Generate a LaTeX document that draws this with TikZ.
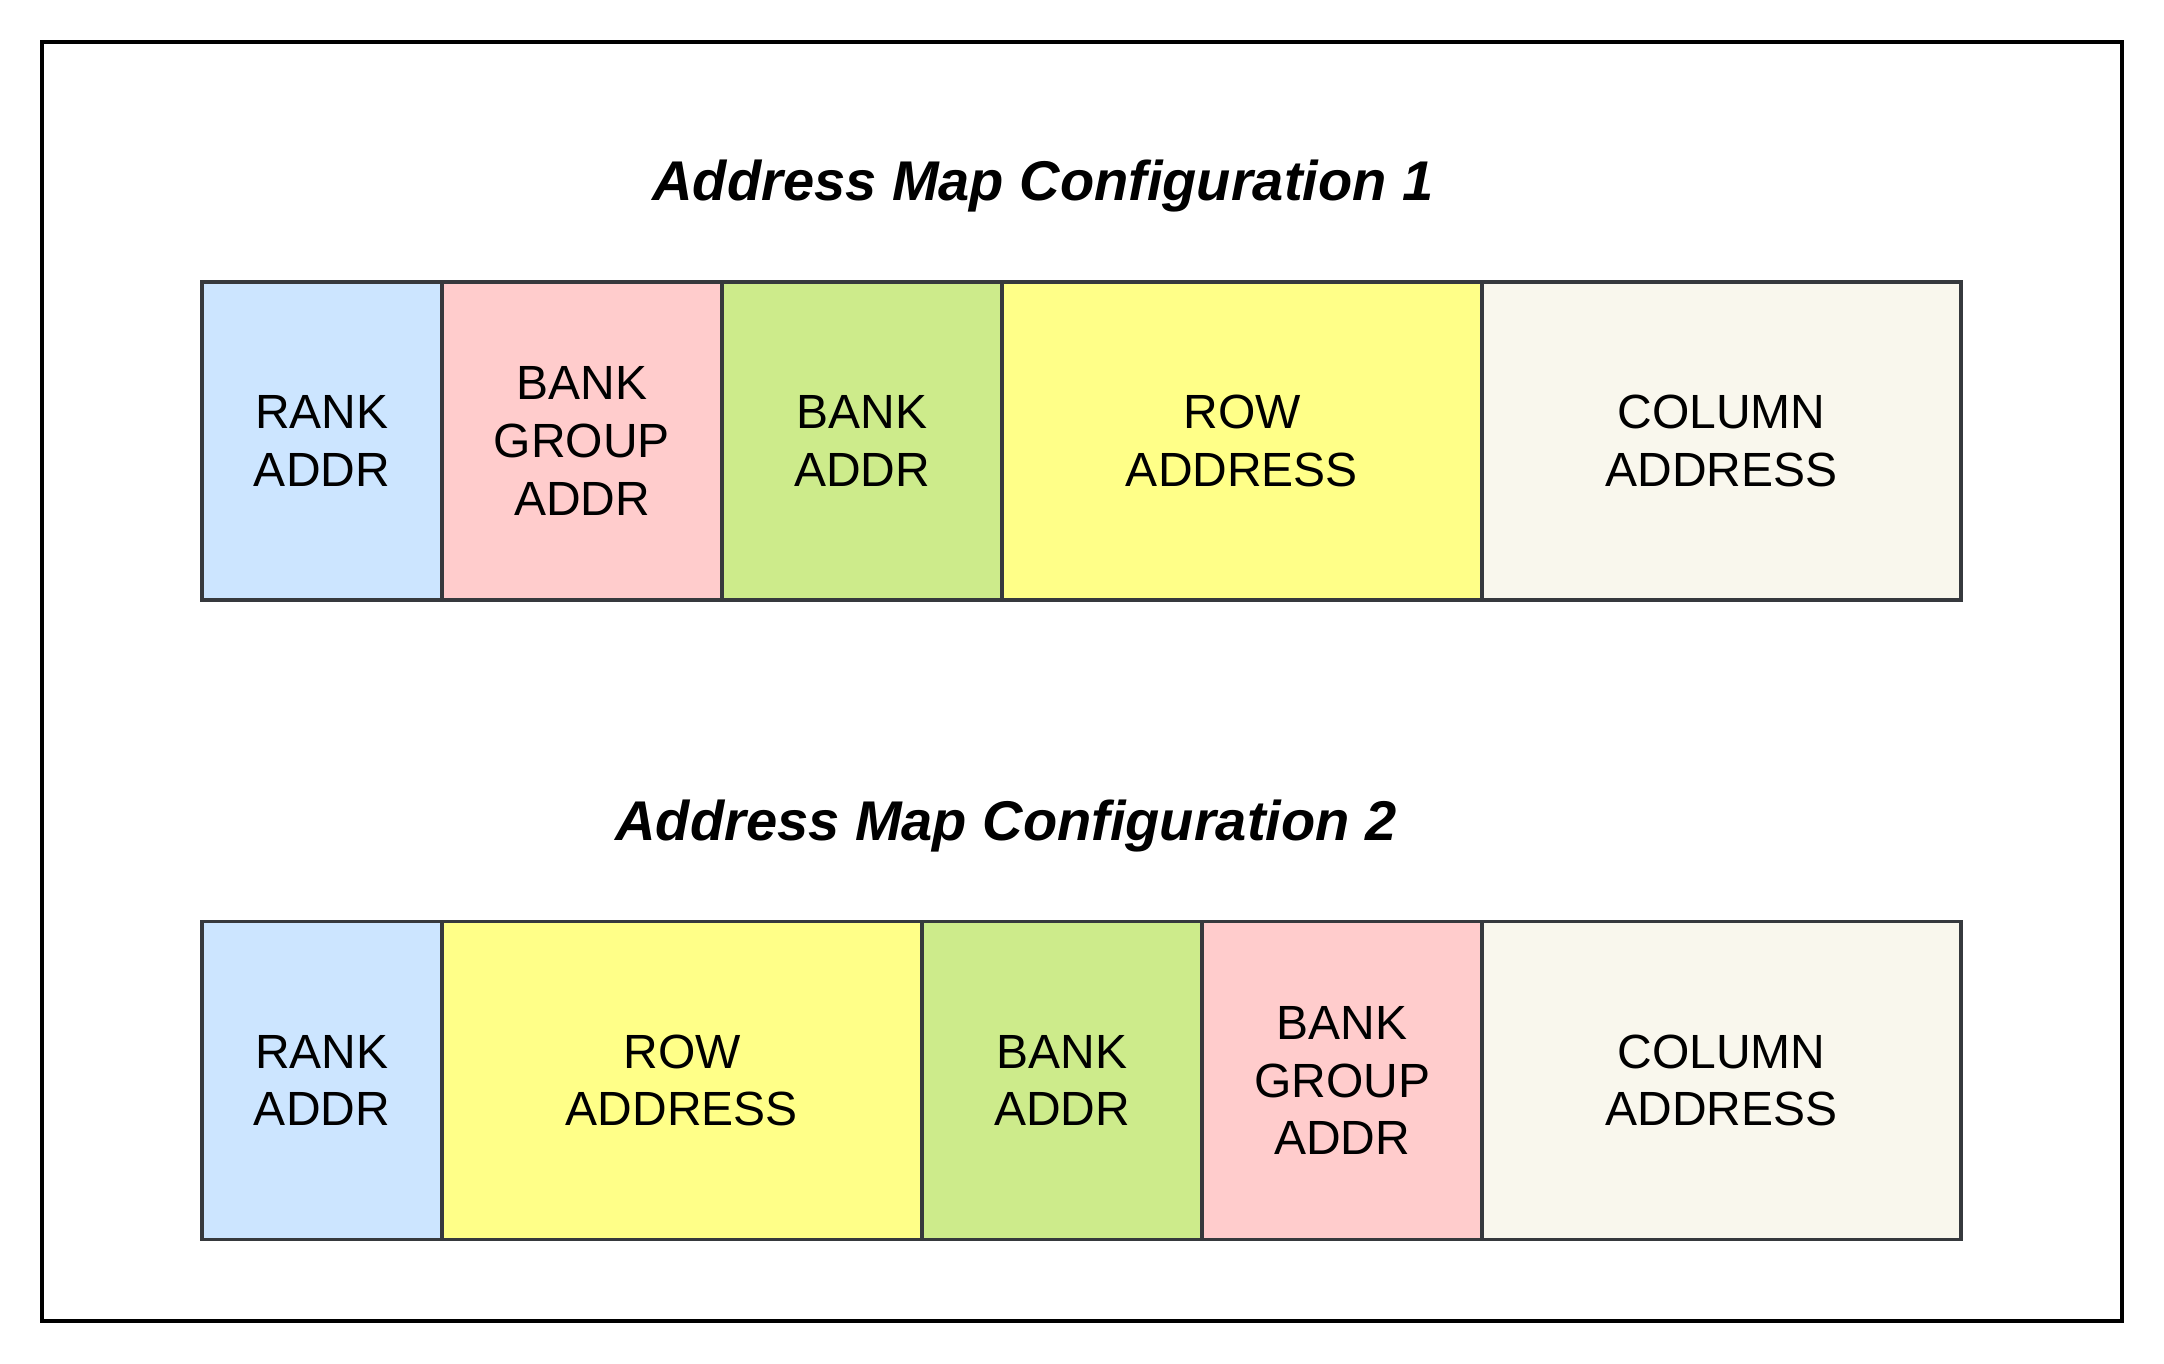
\documentclass[tikz,border=0pt]{standalone}
\usepackage{fontspec}
\setmainfont{Liberation Sans}
\definecolor{cblue}{HTML}{CCE5FF}
\definecolor{cpink}{HTML}{FFCCCC}
\definecolor{cgreen}{HTML}{CDEB8B}
\definecolor{cyellow}{HTML}{FFFF88}
\definecolor{cbeige}{HTML}{F9F7ED}
\definecolor{cstroke}{HTML}{36393D}
\begin{document}
\begin{tikzpicture}[x=0.5pt,y=-0.5pt,
  cell/.style={draw=cstroke, line width=1.6pt, rectangle, inner sep=0pt,
    minimum height=159pt, align=center,
    font=\fontsize{24}{28.8}\selectfont},
  title/.style={inner sep=0pt, font=\fontsize{28}{33.6}\selectfont\bfseries\itshape}]
\useasboundingbox (0,0) rectangle (2164,1364);
\draw[line width=2pt, black] (42,42) rectangle (2122,1321);
\node[title] (t1) at (1043,186) {Address Map Configuration 1};
\node[title] (t2) at (1006,826) {Address Map Configuration 2};
% row 1
\node[cell, fill=cblue,   minimum width=120pt]   (a1) at (322,441)    {RANK\\ADDR};
\node[cell, fill=cpink,   minimum width=140pt]   (a2) at (582,441)    {BANK\\GROUP\\ADDR};
\node[cell, fill=cgreen,  minimum width=140pt]   (a3) at (862,441)    {BANK\\ADDR};
\node[cell, fill=cyellow, minimum width=240pt]   (a4) at (1242,441)   {ROW\\ADDRESS};
\node[cell, fill=cbeige,  minimum width=239.5pt] (a5) at (1721.5,441) {COLUMN\\ADDRESS};
% row 2
\node[cell, fill=cblue,   minimum width=120pt]   (b1) at (322,1080.5)    {RANK\\ADDR};
\node[cell, fill=cyellow, minimum width=240pt]   (b2) at (682,1080.5)    {ROW\\ADDRESS};
\node[cell, fill=cgreen,  minimum width=140pt]   (b3) at (1062,1080.5)   {BANK\\ADDR};
\node[cell, fill=cpink,   minimum width=140pt]   (b4) at (1342,1080.5)   {BANK\\GROUP\\ADDR};
\node[cell, fill=cbeige,  minimum width=239.5pt] (b5) at (1721.5,1080.5) {COLUMN\\ADDRESS};
\end{tikzpicture}
\end{document}
